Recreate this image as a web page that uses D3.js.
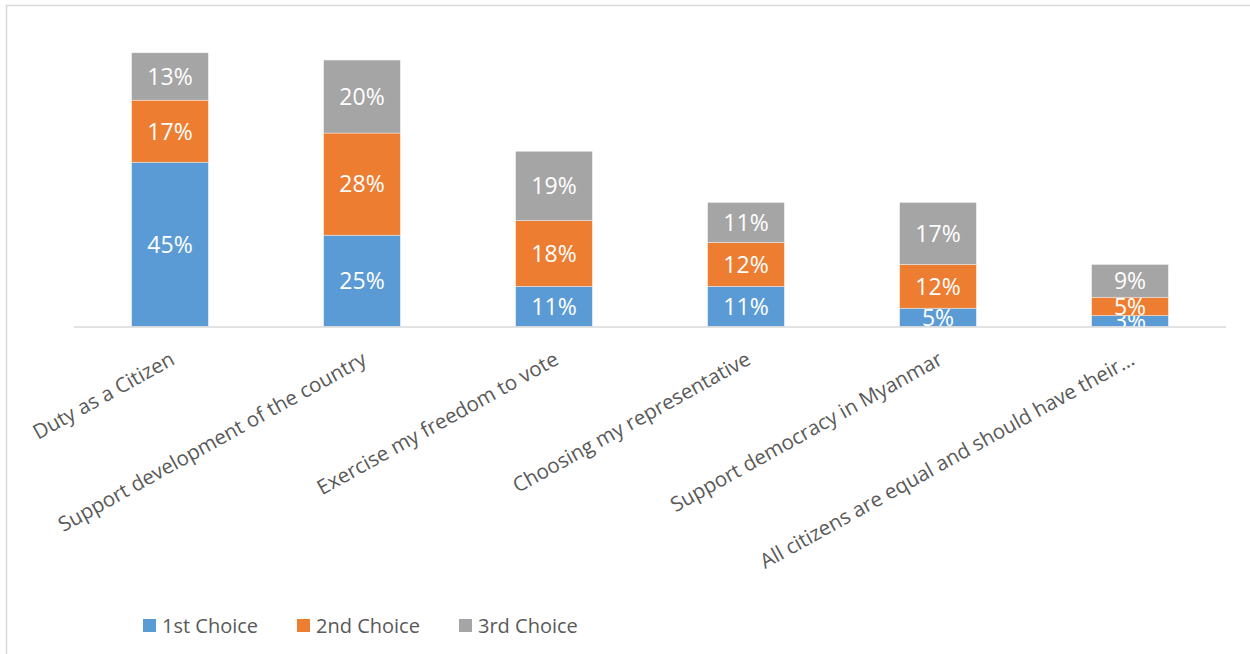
<!DOCTYPE html>
<html>
<head>
<meta charset="utf-8">
<script src="https://cdn.jsdelivr.net/npm/d3@7"></script>
<style>
  body { margin: 0; background: #fff; }
  svg { display: block; }
</style>
</head>
<body>
<svg id="chart" width="1250" height="654"></svg>
<script>
const categories = ['Duty as a Citizen', 'Support development of the country', 'Exercise my freedom to vote',
  'Choosing my representative', 'Support democracy in Myanmar', 'All citizens are equal and should have their\u2026'];
const seriesNames = ['1st Choice', '2nd Choice', '3rd Choice'];
const first = [45, 25, 11, 11, 5, 3];
const second = [17, 28, 18, 12, 12, 5];
const third = [13, 20, 19, 11, 17, 9];
const colors = ['#5B9BD5', '#ED7D31', '#A5A5A5'];

const svg = d3.select('#chart')
  .style('font-family', '"Open Sans", sans-serif');

// chart frame (right and bottom edges are cut off in the original)
svg.append('rect')
  .attr('x', 6.5).attr('y', 5.5)
  .attr('width', 1300).attr('height', 700)
  .attr('fill', 'none').attr('stroke', '#d9d9d9').attr('stroke-width', 1.5);

const table = categories.map(function(c, i) {
  return { cat: c, '1st Choice': first[i], '2nd Choice': second[i], '3rd Choice': third[i] };
});

const x = d3.scaleBand().domain(categories).range([74, 1226]).paddingInner(0.6).paddingOuter(0.3);
const y = d3.scaleLinear().domain([0, 80]).range([326.5, 326.5 - 292]);

const stack = d3.stack().keys(seriesNames)(table);

const layers = svg.append('g').selectAll('g').data(stack).enter().append('g')
  .attr('fill', function(d, i) { return colors[i]; });

layers.selectAll('rect').data(function(d) { return d; }).enter().append('rect')
  .attr('x', function(d) { return x(d.data.cat); })
  .attr('width', x.bandwidth())
  .attr('y', function(d) { return y(d[1]); })
  .attr('height', function(d) { return y(d[0]) - y(d[1]); })
  .attr('stroke', '#ffffff').attr('stroke-opacity', 0.5).attr('stroke-width', 0.75);

layers.selectAll('text').data(function(d) { return d; }).enter().append('text')
  .attr('x', function(d) { return x(d.data.cat) + x.bandwidth() / 2; })
  .attr('y', function(d) { return (y(d[0]) + y(d[1])) / 2; })
  .attr('dy', '0.36em')
  .attr('text-anchor', 'middle')
  .attr('fill', '#ffffff')
  .style('font-size', '23px')
  .text(function(d) { return (d[1] - d[0]) + '%'; });

// axis line
svg.append('line')
  .attr('x1', 74).attr('x2', 1226)
  .attr('y1', y(0) + 0.5).attr('y2', y(0) + 0.5)
  .attr('stroke', '#d9d9d9').attr('stroke-width', 1.5);

// rotated category labels
svg.append('g').selectAll('text').data(categories).enter().append('text')
  .attr('transform', function(d) {
    return `translate(${x(d) + x.bandwidth() / 2 + 6},${y(0) + 37}) rotate(-29)`;
  })
  .attr('text-anchor', 'end')
  .attr('fill', '#595959')
  .style('font-size', '20.5px')
  .text(function(d) { return d; });

// legend
const legendX = [143, 297, 459];
const legend = svg.append('g').selectAll('g').data(seriesNames).enter().append('g')
  .attr('transform', function(d, i) { return `translate(${legendX[i]},619)`; });
legend.append('rect').attr('width', 13).attr('height', 13)
  .attr('fill', function(d, i) { return colors[i]; });
legend.append('text')
  .attr('x', 19).attr('y', 7).attr('dy', '0.36em')
  .attr('fill', '#595959')
  .style('font-size', '20px')
  .text(function(d) { return d; });
</script>
</body>
</html>
